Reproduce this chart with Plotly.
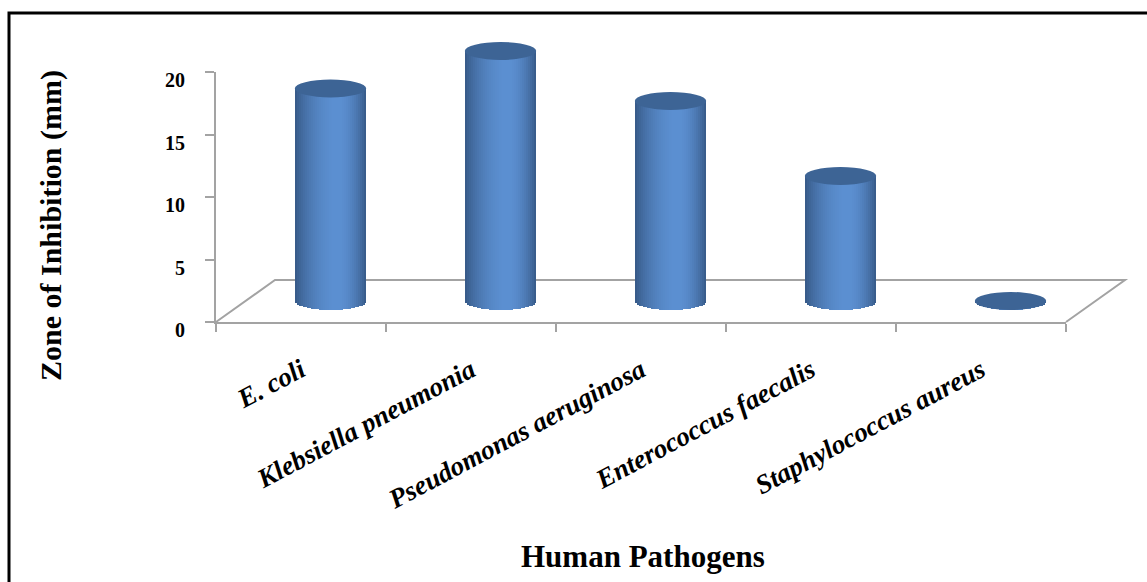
import numpy as np
import plotly.graph_objects as go

# ---------------- data ----------------
categories = ["E. coli", "Klebsiella pneumonia", "Pseudomonas aeruginosa",
              "Enterococcus faecalis", "Staphylococcus aureus"]
zone_mm = [17, 20, 16, 10, 0]
y_ticks = [0, 5, 10, 15, 20]
x_title = "Human Pathogens"
y_title = "Zone of Inhibition (mm)"

# ---------------- geometry (pixels) ----------------
W, H = 1147, 582
X0, KX = 216.0, 170.0      # pixel of category boundary 0, px per category
Y0, KY = 322.0, 12.5       # pixel of value 0 at the front, px per mm
DX, DY = 59.0, 42.0        # depth offset of the floor (px)
BW = 0.42                  # cylinder width (category units)
HE = 0.72                  # ellipse half height (mm units)
NS = 36                    # shading strips per cylinder

def xdom(p0, r):
    return [max(0.0, (p0 + r[0] * KX) / W), min(1.0, (p0 + r[1] * KX) / W)]

def ydom(q0, r):
    return [max(0.0, 1 - (q0 - r[0] * KY) / H), min(1.0, 1 - (q0 - r[1] * KY) / H)]

n = len(categories)
xa_range = [0, n]
ya_range = [0, 20]
xb_range = [-0.3, n + 0.29]
yb_range = [-2.4, 21.6]
pbx = X0 + DX / 2
pby = Y0 - DY / 2

xpos = np.arange(n) + 0.5

dark = np.array([54, 88, 133])
light = np.array([92, 144, 210])

def shade(t):
    pk = 0.6
    if t < pk:
        s = np.sin(t / pk * np.pi / 2) ** 0.8
    else:
        s = np.cos((t - pk) / (1 - pk) * np.pi / 2) ** 0.8
    c = dark + s * (light - dark)
    return "rgb(%d,%d,%d)" % tuple(c.astype(int))

fig = go.Figure()

sw = BW / NS
eps = 0.8 / KX
for i in range(NS):
    off = -BW / 2 + i * sw
    umid = (off + sw / 2) / (BW / 2)
    base = -HE * np.sqrt(max(0.0, 1 - umid ** 2))
    fig.add_trace(go.Bar(
        x=xpos, y=[v - base for v in zone_mm], base=[base] * n,
        offset=off, width=sw + (eps if i < NS - 1 else 0),
        marker=dict(color=shade((i + 0.5) / NS), line=dict(width=0)),
        xaxis="x2", yaxis="y2", showlegend=False, hoverinfo="skip"))

# invisible trace on the front axes so the subplot is created
fig.add_trace(go.Scatter(x=xpos, y=zone_mm, mode="markers",
                         marker=dict(opacity=0), xaxis="x", yaxis="y",
                         showlegend=False, hoverinfo="skip",
                         text=categories))

shapes = []
# floor (left, back, right edges) in the mid-depth plane coordinates
dxh = DX / 2 / KX
dyh = DY / 2 / KY
shapes.append(dict(
    type="path", xref="x2", yref="y2", layer="below",
    path="M %f,%f L %f,%f L %f,%f L %f,%f" % (
        -dxh, -dyh, dxh, dyh, n + dxh, dyh, n - dxh, -dyh),
    line=dict(color="#a3a3a3", width=2)))

# cylinder tops
for xc, v in zip(xpos, zone_mm):
    shapes.append(dict(
        type="circle", xref="x2", yref="y2", layer="above",
        x0=xc - BW / 2, x1=xc + BW / 2, y0=v - HE, y1=v + HE,
        fillcolor="#3d6495", line=dict(width=0)))

# outer border
shapes.append(dict(
    type="path", xref="paper", yref="paper", layer="above",
    path="M %f,%f L %f,%f L %f,%f" % (9 / W, 0.0, 9 / W, 1 - 13 / H, 1.0, 1 - 13 / H),
    line=dict(color="black", width=3)))

serif = "Liberation Serif"
axis_grey = "#a3a3a3"

fig.update_layout(
    template="none",
    width=W, height=H, autosize=False,
    margin=dict(l=0, r=0, t=0, b=0, pad=0, autoexpand=False),
    paper_bgcolor="white", plot_bgcolor="rgba(0,0,0,0)",
    barmode="overlay", bargap=0, showlegend=False,
    shapes=shapes,
    xaxis=dict(
        domain=xdom(X0, xa_range), range=xa_range, anchor="y",
        automargin=False,
        showline=True, linecolor=axis_grey, linewidth=2,
        showgrid=False, zeroline=False,
        tickmode="array", tickvals=list(xpos), ticktext=categories,
        ticks="", tickangle=-28, ticklabelstandoff=20,
        tickfont=dict(family=serif, size=27, color="black",
                      weight="bold", style="italic"),
        minor=dict(tickmode="array", tickvals=list(range(n + 1)),
                   ticks="outside", ticklen=8, tickwidth=2,
                   tickcolor=axis_grey, showgrid=False),
        fixedrange=True),
    yaxis=dict(
        domain=ydom(Y0, ya_range), range=ya_range, anchor="x",
        automargin=False,
        showline=True, linecolor=axis_grey, linewidth=2,
        showgrid=False, zeroline=False,
        tickmode="array", tickvals=y_ticks,
        ticks="outside", ticklen=9, tickwidth=2, tickcolor=axis_grey,
        ticklabelstandoff=16, ticklabelshift=8,
        tickfont=dict(family=serif, size=20, color="black", weight="bold"),
        fixedrange=True),
    xaxis2=dict(domain=xdom(pbx, xb_range), range=xb_range, anchor="y2",
                automargin=False, visible=False, fixedrange=True),
    yaxis2=dict(domain=ydom(pby, yb_range), range=yb_range, anchor="x2",
                automargin=False, visible=False, fixedrange=True),
    annotations=[
        dict(text=y_title, xref="paper", yref="paper", x=51 / W, y=1 - 226 / H,
             textangle=-90, showarrow=False, xanchor="center", yanchor="middle",
             font=dict(family=serif, size=30, color="black", weight="bold")),
        dict(text=x_title, xref="paper", yref="paper", x=643 / W, y=1 - 556 / H,
             showarrow=False, xanchor="center", yanchor="middle",
             font=dict(family=serif, size=31, color="black", weight="bold")),
    ],
)

post = ("document.documentElement.style.margin='0px';"
        "document.documentElement.style.overflow='hidden';"
        "document.body.style.margin='0px';"
        "document.body.style.padding='0px';"
        "document.body.style.overflow='hidden';"
        "var gd=document.getElementById('{plot_id}');"
        "gd.style.position='absolute';gd.style.left='0px';gd.style.top='0px';")

fig.write_html("out.html", post_script=post,
               config={"displayModeBar": False, "staticPlot": True})
